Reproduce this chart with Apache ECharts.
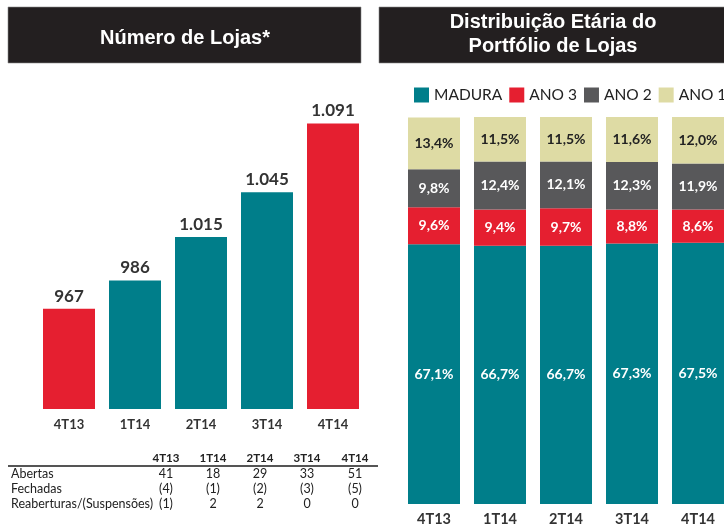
<!DOCTYPE html>
<html>
<head>
<meta charset="utf-8">
<script src="https://cdn.jsdelivr.net/npm/echarts@6/dist/echarts.min.js"></script>
<style>html,body{margin:0;padding:0;background:#fff}#c{width:724px;height:528px}</style>
</head>
<body>
<div id="c"></div>
<script>
const categories = ['4T13', '1T14', '2T14', '3T14', '4T14'];
const lojas = [967, 986, 1015, 1045, 1091];
const highlighted = [true, false, false, false, true];

const madura = [67.1, 66.7, 66.7, 67.3, 67.5];
const ano3 = [9.6, 9.4, 9.7, 8.8, 8.6];
const ano2 = [9.8, 12.4, 12.1, 12.3, 11.9];
const ano1 = [13.4, 11.5, 11.5, 11.6, 12.0];

const tableHeader = ['4T13', '1T14', '2T14', '3T14', '4T14'];
const rowLabels = ['Abertas', 'Fechadas', 'Reaberturas/(Suspensões)'];
const abertas = ['41', '18', '29', '33', '51'];
const fechadas = ['(4)', '(1)', '(2)', '(3)', '(5)'];
const reaberturas = ['(1)', '2', '2', '0', '0'];

const TEAL = '#007E8A', RED = '#E51F30', GRAY = '#58585A', YEL = '#DEDBA4', DARK = '#231F20';
const FONT = 'Lato';

const chart = echarts.init(document.getElementById('c'));

const fmtThousands = v => {
  const s = String(v);
  return s.length > 3 ? s.slice(0, s.length - 3) + '.' + s.slice(-3) : s;
};
const fmtPct = v => v.toFixed(1).replace('.', ',') + '%';

const TITLE_FONT = 'bold 20px "Liberation Sans", Arial';
const graphics = [
  { type: 'rect', shape: { x: 8, y: 7, width: 353, height: 56 }, style: { fill: DARK, stroke: '#8a8a8a', lineWidth: 0.6 } },
  { type: 'text', x: 185, y: 38, style: { text: 'Número de Lojas*', fill: '#fff', font: TITLE_FONT, align: 'center', verticalAlign: 'middle' } },
  { type: 'rect', shape: { x: 379, y: 7, width: 350, height: 56 }, style: { fill: DARK, stroke: '#8a8a8a', lineWidth: 0.6 } },
  { type: 'text', x: 553, y: 22, style: { text: 'Distribuição Etária do', fill: '#fff', font: TITLE_FONT, align: 'center', verticalAlign: 'middle' } },
  { type: 'text', x: 553, y: 46, style: { text: 'Portfólio de Lojas', fill: '#fff', font: TITLE_FONT, align: 'center', verticalAlign: 'middle' } },
  { type: 'line', shape: { x1: 8, y1: 466, x2: 378, y2: 466 }, style: { stroke: '#555', lineWidth: 2 } }
];

const colX = [166, 213, 260, 307, 355];
tableHeader.forEach((h, i) => {
  graphics.push({ type: 'text', x: colX[i], y: 458, style: { text: h, fill: '#222', font: 'bold 11.5px ' + FONT, align: 'center', verticalAlign: 'middle' } });
});
const rows = [abertas, fechadas, reaberturas];
const rowY = [474, 489, 504];
rows.forEach((r, ri) => {
  graphics.push({ type: 'text', x: 11, y: rowY[ri], style: { text: rowLabels[ri], fill: '#222', font: '12.5px ' + FONT, align: 'left', verticalAlign: 'middle' } });
  r.forEach((v, i) => {
    graphics.push({ type: 'text', x: colX[i], y: rowY[ri], style: { text: v, fill: '#222', font: '12.5px ' + FONT, align: 'center', verticalAlign: 'middle' } });
  });
});

const inLabel = (color) => ({
  show: true, position: 'inside', color: color, fontFamily: FONT, fontWeight: 'bold', fontSize: 14,
  formatter: p => fmtPct(p.value)
});

chart.setOption({
  animation: false,
  textStyle: { fontFamily: FONT },
  legend: {
    left: 409, top: 82, width: 420, itemWidth: 15, itemHeight: 15, itemGap: 7, icon: 'rect',
    textStyle: { fontFamily: FONT, fontSize: 15.5, color: '#222' },
    data: ['MADURA', 'ANO 3', 'ANO 2', 'ANO 1']
  },
  grid: [
    { left: 36, top: 110, width: 330, height: 299, outerBoundsMode: 'none' },
    { left: 401, top: 117, width: 330, height: 387, outerBoundsMode: 'none' }
  ],
  xAxis: [
    { type: 'category', gridIndex: 0, data: categories, axisLine: { show: false }, axisTick: { show: false },
      axisLabel: { color: '#333', fontFamily: FONT, fontWeight: 'bold', fontSize: 13, margin: 9 } },
    { type: 'category', gridIndex: 1, data: categories, axisLine: { show: false }, axisTick: { show: false },
      axisLabel: { color: '#333', fontFamily: FONT, fontWeight: 'bold', fontSize: 14.5, margin: 8 } }
  ],
  yAxis: [
    { type: 'value', gridIndex: 0, min: 900, max: 1100, show: false },
    { type: 'value', gridIndex: 1, min: 0, max: 100, show: false }
  ],
  series: [
    { type: 'bar', name: 'Lojas', xAxisIndex: 0, yAxisIndex: 0, barWidth: 52,
      data: lojas.map((v, i) => ({ value: v, itemStyle: { color: highlighted[i] ? RED : TEAL } })),
      label: { show: true, position: 'top', distance: 4, color: '#333', fontFamily: FONT, fontWeight: 'bold', fontSize: 17,
        formatter: p => fmtThousands(p.value) } },
    { type: 'bar', name: 'MADURA', xAxisIndex: 1, yAxisIndex: 1, stack: 'p', barWidth: 52, data: madura,
      itemStyle: { color: TEAL }, label: inLabel('#fff') },
    { type: 'bar', name: 'ANO 3', xAxisIndex: 1, yAxisIndex: 1, stack: 'p', barWidth: 52, data: ano3,
      itemStyle: { color: RED }, label: inLabel('#fff') },
    { type: 'bar', name: 'ANO 2', xAxisIndex: 1, yAxisIndex: 1, stack: 'p', barWidth: 52, data: ano2,
      itemStyle: { color: GRAY }, label: inLabel('#fff') },
    { type: 'bar', name: 'ANO 1', xAxisIndex: 1, yAxisIndex: 1, stack: 'p', barWidth: 52, data: ano1,
      itemStyle: { color: YEL }, label: inLabel('#222') }
  ],
  graphic: graphics
});
</script>
</body>
</html>
